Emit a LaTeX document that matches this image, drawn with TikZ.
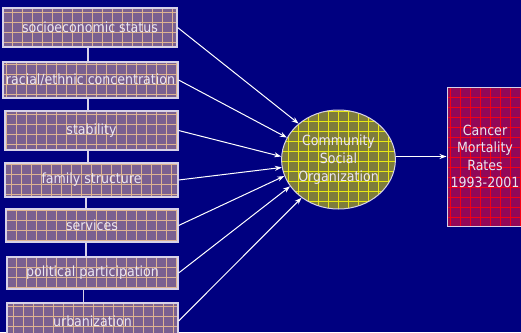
\documentclass[tikz,border=0pt]{standalone}
\usepackage{fontspec}
\setmainfont{DejaVu Sans Condensed}
\usetikzlibrary{arrows.meta,shapes.geometric}

\definecolor{navy}{RGB}{0,0,128}
\definecolor{boxfill}{RGB}{122,96,144}
\definecolor{boxgrid}{RGB}{222,180,146}
\definecolor{boxedge}{RGB}{215,210,232}
\definecolor{olive}{RGB}{126,124,60}
\definecolor{olivegrid}{RGB}{232,232,20}
\definecolor{wine}{RGB}{146,8,88}
\definecolor{winegrid}{RGB}{245,0,20}
\definecolor{txt}{RGB}{236,230,242}

\tikzset{
  % square lattice drawn inside a shape
  gridfill/.style 2 args={path picture={
      \draw[#1, line width=#2, step=10pt, shift={(0.5pt,0.5pt)}]
        (path picture bounding box.south west) grid (path picture bounding box.north east);}},
  factor/.style={draw=boxedge, line width=1.2pt, fill=boxfill, gridfill={boxgrid}{0.7pt},
    inner sep=0pt, text=txt, font=\fontsize{14}{17}\selectfont},
  hub/.style={ellipse, draw=boxedge, line width=1pt, fill=olive, gridfill={olivegrid}{0.8pt},
    inner sep=0pt, text=txt, align=center, font=\fontsize{14}{18}\selectfont},
  outcome/.style={draw=boxedge, line width=1pt, fill=wine, gridfill={winegrid}{1.2pt},
    inner sep=0pt, text=txt, align=center, font=\fontsize{14}{17.5}\selectfont},
  arr/.style={draw=white, line width=1pt, -{Stealth[length=7pt,width=5pt]}},
  link/.style={draw=boxedge, line width=1.3pt},
}

\begin{document}
\begin{tikzpicture}[x=1pt,y=1pt]
\fill[navy] (0,0) rectangle (521,-332);
\useasboundingbox (0,0) rectangle (521,-332);
\clip (0,0) rectangle (521,-332);

% column of factors
\node[factor, minimum width=174pt, minimum height=39pt] (b1) at (90,-27.5)   {socioeconomic status};
\node[factor, minimum width=175pt, minimum height=36pt] (b2) at (90.5,-80)   {racial/ethnic concentration};
\node[factor, minimum width=173pt, minimum height=39pt] (b3) at (91.5,-130.5){stability};
\node[factor, minimum width=173pt, minimum height=34pt] (b4) at (91.5,-180)  {family structure};
\node[factor, minimum width=172pt, minimum height=33pt] (b5) at (92,-225.5)  {services};
\node[factor, minimum width=171pt, minimum height=32pt] (b6) at (92.5,-273)  {political participation};
\node[factor, minimum width=171pt, minimum height=36pt] (b7) at (92.5,-321)  {urbanization};

% links between consecutive factors
\draw[link] ([xshift=-2pt]b1.south)   -- ([xshift=-2pt]b1.south |- b2.north);
\draw[link] ([xshift=-2.5pt]b2.south) -- ([xshift=-2.5pt]b2.south |- b3.north);
\draw[link] ([xshift=-3.5pt]b3.south) -- ([xshift=-3.5pt]b3.south |- b4.north);
\draw[link] ([xshift=-5.5pt]b4.south) -- ([xshift=-5.5pt]b4.south |- b5.north);
\draw[link] ([xshift=-6pt]b5.south)   -- ([xshift=-6pt]b5.south |- b6.north);
\draw[link] ([xshift=-9pt]b6.south)   -- ([xshift=-9pt]b6.south |- b7.north);

% central construct and outcome
\node[hub, minimum width=107pt, minimum height=99pt] (c) at (338.5,-159.5)
  {Community\\Social\\Organization};
\node[outcome, minimum width=76pt, minimum height=139pt] (r) at (485,-156.5)
  {Cancer\\Mortality\\Rates\\1993-2001};

% arrows into the construct
\draw[arr] (b1.east) -- (c.138);
\draw[arr] (b2.east) -- (c.157);
\draw[arr] (b3.east) -- (c.177);
\draw[arr] (b4.east) -- (c.188);
\draw[arr] (b5.east) -- (c.197);
\draw[arr] (b6.east) -- (c.209);
\draw[arr] (b7.east) -- (c.226);

% construct to outcome
\draw[arr] (r.west -| c.east) -- (r.west);
\end{tikzpicture}
\end{document}
